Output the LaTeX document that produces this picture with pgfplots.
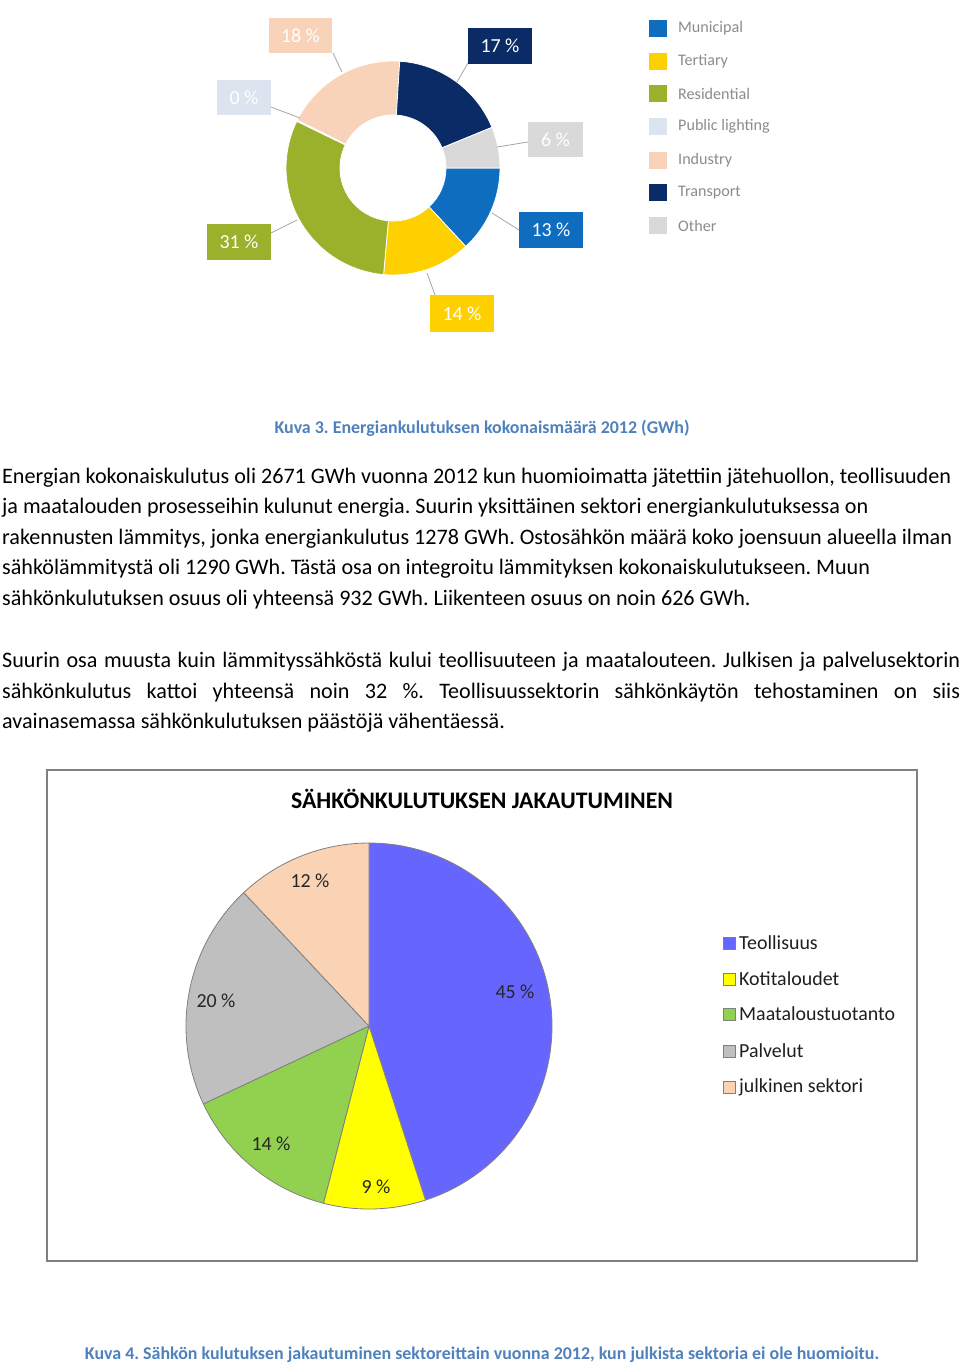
\documentclass[border=0pt]{standalone}
\usepackage{pgfplots}
\pgfplotsset{compat=1.18}
\usepackage{fontspec}
\setmainfont{Carlito}
\frenchspacing
% donut colours
\definecolor{dMun}{HTML}{0F6DC0}
\definecolor{dTer}{HTML}{FFD000}
\definecolor{dRes}{HTML}{9BB12B}
\definecolor{dPub}{HTML}{DCE4EF}
\definecolor{dInd}{HTML}{F8D3BA}
\definecolor{dTra}{HTML}{0A2B66}
\definecolor{dOth}{HTML}{D9D9D9}
% pie colours
\definecolor{pTeo}{HTML}{6666FF}
\definecolor{pKot}{HTML}{FFFF00}
\definecolor{pMaa}{HTML}{92D050}
\definecolor{pPal}{HTML}{BFBFBF}
\definecolor{pJul}{HTML}{FAD3B4}
\definecolor{pieedge}{HTML}{808080}
\definecolor{capblue}{HTML}{4F81BD}
\definecolor{leggray}{HTML}{8C8C8C}
\definecolor{leader}{HTML}{A6A6A6}
% pie slice: colour, cumulative start (%), share (%)
\newcommand\pieslice[3]{%
  \fill[#1, draw=pieedge, line width=0.8bp] (axis cs:369,1026) -- ++({90-3.6*(#2)}:183bp)
    arc[start angle={90-3.6*(#2)}, delta angle={-3.6*(#3)}, radius=183bp] -- cycle;}
% donut slice: colour, cumulative start (%), share (%)
\newcommand\donutslice[3]{%
  \fill[#1, draw=white, line width=0.8bp] (axis cs:393,168) ++({-3.6*(#2)}:107bp)
    arc[start angle={-3.6*(#2)}, delta angle={-3.6*(#3)}, radius=107bp]
    -- ++({180-3.6*(#2+#3)}:54bp)
    arc[start angle={-3.6*(#2+#3)}, delta angle={3.6*(#3)}, radius=53bp] -- cycle;}
\newcommand\dlabel[6]{% x0,y0,x1,y1,colour,text
  \fill[#5] (axis cs:#1,#2) rectangle (axis cs:#3,#4);
  \node[text=white, font={\fontsize{20}{23}\selectfont}, inner sep=0pt] at (axis cs:{(#1+#3)/2},{(#2+#4)/2}) {#6};}
\newcommand\dleg[3]{% y centre, colour, text
  \fill[#2] (axis cs:649,#1-8.5) rectangle (axis cs:667,#1+8.5);
  \node[anchor=west, inner sep=0pt, text=leggray, font={\fontsize{16.2}{19}\selectfont}] at (axis cs:678,#1) {#3};}
\newcommand\pleg[3]{% y centre, colour, text
  \fill[#2, draw=pieedge, line width=0.4bp] (axis cs:723,#1-6) rectangle (axis cs:735,#1+6);
  \node[anchor=west, inner sep=0pt, text=black!88, font={\fontsize{20}{23}\selectfont}] at (axis cs:739,#1) {#3};}
\newcommand\bodyline[2]{% baseline y, text
  \node[anchor=base west, inner sep=0pt, font={\fontsize{22.2}{26}\selectfont}] at (axis cs:2,#1) {#2};}
\newcommand\bodyjust[2]{% baseline y, text (justified)
  \node[anchor=base west, inner sep=0pt, font={\fontsize{22.2}{26}\selectfont}] at (axis cs:2,#1) {\makebox[958bp][s]{#2}};}
\begin{document}
\begin{tikzpicture}
\begin{axis}[x=1bp, y=1bp, xmin=0, xmax=960, ymin=0, ymax=1367, y dir=reverse,
  hide axis, clip=false, scale only axis, anchor=south west, at={(0,0)}]
\fill[white] (axis cs:0,0) rectangle (axis cs:960,1367);
% ---------- donut (Municipal, Tertiary, Residential, Public lighting, Industry, Transport, Other)
\donutslice{dMun}{0}{13.1}
\donutslice{dTer}{13.1}{13.3}
\donutslice{dRes}{26.4}{30.8}
\donutslice{dPub}{57.2}{0.2}
\donutslice{dInd}{57.4}{18.6}
\donutslice{dTra}{76.0}{17.8}
\donutslice{dOth}{93.8}{6.2}
% leader lines
\draw[leader, line width=0.8bp] (axis cs:333,53) -- (axis cs:342,72);
\draw[leader, line width=0.8bp] (axis cs:468,63) -- (axis cs:457,82);
\draw[leader, line width=0.8bp] (axis cs:528,142) -- (axis cs:497,147);
\draw[leader, line width=0.8bp] (axis cs:519,230) -- (axis cs:492,213);
\draw[leader, line width=0.8bp] (axis cs:435,295) -- (axis cs:427,273);
\draw[leader, line width=0.8bp] (axis cs:271,233) -- (axis cs:297,220);
\draw[leader, line width=0.8bp] (axis cs:271,107) -- (axis cs:300,118);
% label boxes
\dlabel{269}{18}{332}{53}{dInd}{18 \%}
\dlabel{468}{28}{532}{64}{dTra}{17 \%}
\dlabel{528}{122}{583}{157}{dOth}{6 \%}
\dlabel{519}{212}{583}{248}{dMun}{13 \%}
\dlabel{430}{295}{494}{332}{dTer}{14 \%}
\dlabel{207}{224}{271}{260}{dRes}{31 \%}
\dlabel{217}{80}{271}{115}{dPub}{0 \%}
% donut legend
\dleg{28.5}{dMun}{Municipal}
\dleg{61}{dTer}{Tertiary}
\dleg{93.5}{dRes}{Residential}
\dleg{126.5}{dPub}{Public lighting}
\dleg{160}{dInd}{Industry}
\dleg{192.5}{dTra}{Transport}
\dleg{225.5}{dOth}{Other}
% ---------- captions and body text
\node[anchor=base, inner sep=0pt, text=capblue, font={\fontsize{18}{21}\selectfont\bfseries}] at (axis cs:482,433) {Kuva 3. Energiankulutuksen kokonaismäärä 2012 (GWh)};
\bodyline{483}{Energian kokonaiskulutus oli 2671 GWh vuonna 2012 kun huomioimatta jätettiin jätehuollon, teollisuuden}
\bodyline{513.6}{ja maatalouden prosesseihin kulunut energia. Suurin yksittäinen sektori energiankulutuksessa on}
\bodyline{544.2}{rakennusten lämmitys, jonka energiankulutus 1278 GWh. Ostosähkön määrä koko joensuun alueella ilman}
\bodyline{574.8}{sähkölämmitystä oli 1290 GWh. Tästä osa on integroitu lämmityksen kokonaiskulutukseen. Muun}
\bodyline{605.4}{sähkönkulutuksen osuus oli yhteensä 932 GWh. Liikenteen osuus on noin 626 GWh.}
\bodyjust{667.5}{Suurin osa muusta kuin lämmityssähköstä kului teollisuuteen ja maatalouteen. Julkisen ja palvelusektorin}
\bodyjust{698.1}{sähkönkulutus kattoi yhteensä noin 32 \%. Teollisuussektorin sähkönkäytön tehostaminen on siis}
\bodyline{728.7}{avainasemassa sähkönkulutuksen päästöjä vähentäessä.}
% ---------- pie chart frame and title
\draw[pieedge, line width=1.8bp] (axis cs:47,770) rectangle (axis cs:917,1261);
\node[anchor=base, inner sep=0pt, font={\fontsize{23.8}{27}\selectfont\bfseries}] at (axis cs:482,808) {SÄHKÖNKULUTUKSEN JAKAUTUMINEN};
% pie: Teollisuus 45, Kotitaloudet 9, Maataloustuotanto 14, Palvelut 20, julkinen sektori 12
\pieslice{pTeo}{0}{45}
\pieslice{pKot}{45}{9}
\pieslice{pMaa}{54}{14}
\pieslice{pPal}{68}{20}
\pieslice{pJul}{88}{12}
\begin{scope}[every node/.style={inner sep=0pt, text=black!85, font={\fontsize{20}{23}\selectfont}}]
\node at (axis cs:515,992) {45 \%};
\node at (axis cs:376,1187) {9 \%};
\node at (axis cs:271,1144) {14 \%};
\node at (axis cs:216,1001) {20 \%};
\node at (axis cs:310,881) {12 \%};
\end{scope}
% pie legend
\pleg{943}{pTeo}{Teollisuus}
\pleg{979}{pKot}{Kotitaloudet}
\pleg{1014}{pMaa}{Maataloustuotanto}
\pleg{1051}{pPal}{Palvelut}
\pleg{1087}{pJul}{julkinen sektori}
% caption 4
\node[anchor=base, inner sep=0pt, text=capblue, font={\fontsize{18}{21}\selectfont\bfseries}] at (axis cs:482,1359) {Kuva 4. Sähkön kulutuksen jakautuminen sektoreittain vuonna 2012, kun julkista sektoria ei ole huomioitu.};
\end{axis}
\path[use as bounding box] (0,0) rectangle (960bp,1367bp);
\end{tikzpicture}
\end{document}
